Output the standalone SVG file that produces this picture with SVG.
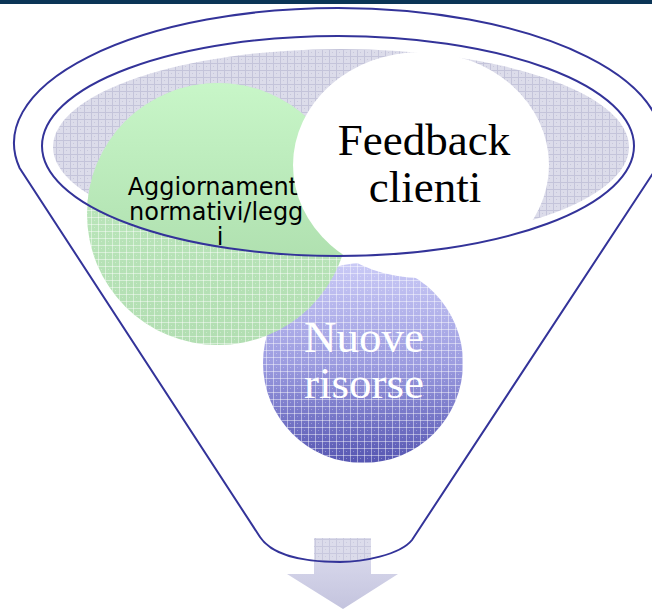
<svg xmlns="http://www.w3.org/2000/svg" width="652" height="612" viewBox="0 0 652 612">
  <style>
    .outline { fill: none; stroke: #333399; stroke-width: 2; }
    .sans { font-family: "DejaVu Sans", Verdana, sans-serif; }
    .serif { font-family: "Liberation Serif", "Times New Roman", serif; }
  </style>
  <defs>
    <!-- light grid used for the translucent (dithered) fills -->
    <pattern id="gridLight" width="7" height="7" patternUnits="userSpaceOnUse">
      <path d="M0 0.5H7M0.5 0V7" stroke="#ffffff" stroke-opacity="0.45" stroke-width="1"/>
      <rect x="3" y="3" width="1" height="1" fill="#ffffff" fill-opacity="0.3"/>
    </pattern>
    <pattern id="gridGray" width="7" height="7" patternUnits="userSpaceOnUse">
      <rect width="7" height="7" fill="#dcdcea"/>
      <path d="M0 0.5H7M0.5 0V7" stroke="#c4c4da" stroke-width="1"/>
      <rect x="3" y="3" width="1" height="1" fill="#c8c8dc"/>
    </pattern>
    <linearGradient id="greenSolid" x1="0" y1="0" x2="0" y2="1">
      <stop offset="0" stop-color="#c8f6c8"/>
      <stop offset="1" stop-color="#a4d6a4"/>
    </linearGradient>
    <linearGradient id="greenHatch" x1="0" y1="0" x2="0" y2="1">
      <stop offset="0" stop-color="#bfeabf"/>
      <stop offset="1" stop-color="#b2deb2"/>
    </linearGradient>
    <linearGradient id="blueFill" x1="0" y1="0" x2="0" y2="1">
      <stop offset="0" stop-color="#cacaf6"/>
      <stop offset="0.5" stop-color="#9c9ce0"/>
      <stop offset="1" stop-color="#5656b2"/>
    </linearGradient>
    <linearGradient id="arrowFill" x1="0" y1="0" x2="0" y2="1">
      <stop offset="0" stop-color="#dedef0"/>
      <stop offset="1" stop-color="#c4c4de"/>
    </linearGradient>
    <clipPath id="rimClip">
      <ellipse cx="338" cy="146" rx="296" ry="110"/>
    </clipPath>
    <clipPath id="funnelClip">
      <path d="M19.6 168 A324 135 0 1 1 656.4 168 L412 540 C400 555 362 562 340 562 C320 562 275 560 260 537 Z"/>
    </clipPath>
  </defs>

  <!-- header bar -->
  <rect x="0" y="0" width="652" height="4" fill="#0b3556"/>

  <!-- funnel rim surface -->
  <g id="rim">
    <ellipse cx="341" cy="147" rx="288" ry="98" fill="url(#gridGray)"/>
  </g>

  <!-- output arrow -->
  <g id="connectors">
    <path d="M314 538 H371 V574 H398 L343 609 L287 574 H314 Z" fill="url(#arrowFill)"/>
    <g clip-path="url(#funnelClip)">
      <rect x="314" y="538" width="57" height="30" fill="url(#gridGray)" opacity="0.8"/>
    </g>
  </g>

  <g id="node-risorse">
    <circle cx="363" cy="363" r="100" fill="url(#blueFill)"/>
    <circle cx="363" cy="363" r="100" fill="url(#gridLight)"/>
    <text class="serif" x="364" y="352" font-size="45" fill="#ffffff" text-anchor="middle">Nuove</text>
    <text class="serif" x="364" y="398" font-size="45" fill="#ffffff" text-anchor="middle">risorse</text>
  </g>

  <g id="node-aggiornamenti">
    <circle cx="218" cy="214" r="131" fill="url(#greenHatch)"/>
    <circle cx="218" cy="214" r="131" fill="url(#gridLight)"/>
    <circle cx="218" cy="214" r="131" fill="url(#greenSolid)" clip-path="url(#rimClip)"/>
    <text class="sans" font-size="24" fill="#000000" text-anchor="middle">
      <tspan x="220" y="195">Aggiornamenti</tspan>
      <tspan x="220" y="220">normativi/legg</tspan>
      <tspan x="220" y="245">i</tspan>
    </text>
  </g>

  <g id="node-feedback">
    <ellipse cx="421" cy="165" rx="128" ry="113" fill="#ffffff"/>
    <text class="serif" x="424" y="155" font-size="45" fill="#000000" text-anchor="middle">Feedback</text>
    <text class="serif" x="425" y="202" font-size="45" fill="#000000" text-anchor="middle">clienti</text>
  </g>

  <!-- funnel outlines -->
  <g id="funnel">
    <path class="outline" d="M19.6 168 A324 135 0 1 1 656.4 168 L412 540 C400 555 362 562 340 562 C320 562 275 560 260 537 Z"/>
    <ellipse class="outline" cx="338" cy="146" rx="296" ry="110"/>
  </g>
</svg>
